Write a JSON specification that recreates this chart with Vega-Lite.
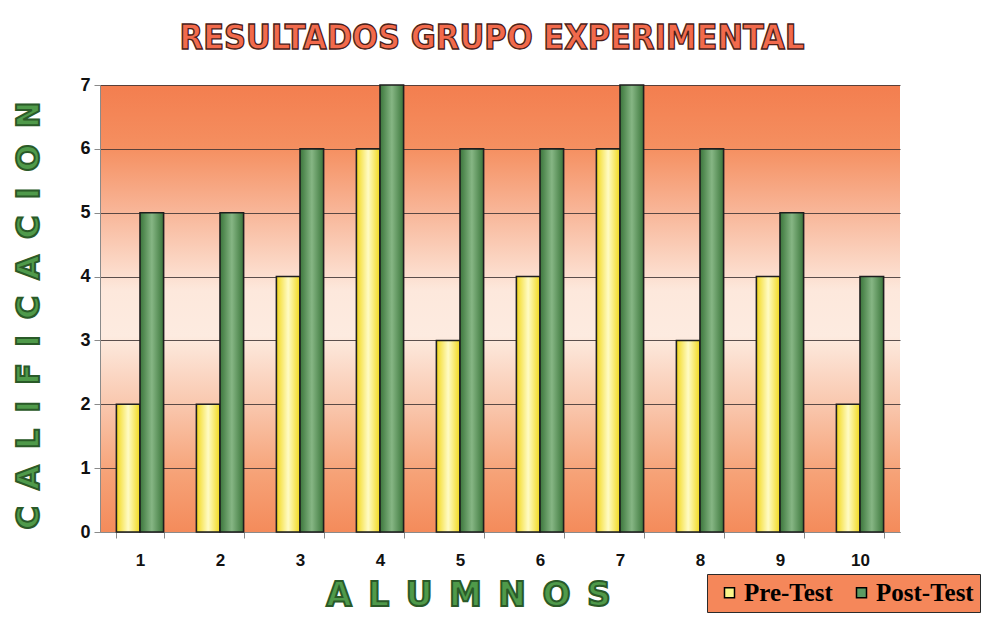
{
  "$schema": "https://vega.github.io/schema/vega-lite/v6.json",
  "autosize": "none",
  "width": 800,
  "height": 447,
  "padding": {"left": 100, "top": 85, "right": 93, "bottom": 87},
  "background": "#ffffff",
  "title": {
    "text": "RESULTADOS GRUPO EXPERIMENTAL",
    "anchor": "middle",
    "dx": -8,
    "offset": 20,
    "font": "DejaVu Sans Condensed, sans-serif",
    "fontSize": 34,
    "fontWeight": "bold",
    "color": "#f26a4c",
    "encoding": {"stroke": {"value": "#4a2018"}, "strokeWidth": {"value": 1.3}}
  },
  "data": {
    "values": [
      {"alumno": 1, "serie": "Pre-Test", "nota": 2},
      {"alumno": 1, "serie": "Post-Test", "nota": 5},
      {"alumno": 2, "serie": "Pre-Test", "nota": 2},
      {"alumno": 2, "serie": "Post-Test", "nota": 5},
      {"alumno": 3, "serie": "Pre-Test", "nota": 4},
      {"alumno": 3, "serie": "Post-Test", "nota": 6},
      {"alumno": 4, "serie": "Pre-Test", "nota": 6},
      {"alumno": 4, "serie": "Post-Test", "nota": 7},
      {"alumno": 5, "serie": "Pre-Test", "nota": 3},
      {"alumno": 5, "serie": "Post-Test", "nota": 6},
      {"alumno": 6, "serie": "Pre-Test", "nota": 4},
      {"alumno": 6, "serie": "Post-Test", "nota": 6},
      {"alumno": 7, "serie": "Pre-Test", "nota": 6},
      {"alumno": 7, "serie": "Post-Test", "nota": 7},
      {"alumno": 8, "serie": "Pre-Test", "nota": 3},
      {"alumno": 8, "serie": "Post-Test", "nota": 6},
      {"alumno": 9, "serie": "Pre-Test", "nota": 4},
      {"alumno": 9, "serie": "Post-Test", "nota": 5},
      {"alumno": 10, "serie": "Pre-Test", "nota": 2},
      {"alumno": 10, "serie": "Post-Test", "nota": 4}
    ]
  },
  "encoding": {
    "x": {
      "field": "alumno",
      "type": "ordinal",
      "scale": {"paddingInner": 0.41, "paddingOuter": 0.205},
      "axis": {
        "title": "A\u2002L\u2002U\u2002M\u2002N\u2002O\u2002S",
        "titleFont": "DejaVu Sans",
        "titleFontWeight": "bold",
        "titleFontSize": 33,
        "titleColor": "#4f9a4a",
        "titleX": 368,
        "titleY": 63,
        "titleAnchor": "middle",
        "titleAlign": "center",
        "titleBaseline": "middle",
        "labelAngle": 0,
        "labelFont": "Liberation Sans",
        "labelFontWeight": "bold",
        "labelFontSize": 17,
        "labelColor": "#111",
        "labelPadding": 14,
        "tickBand": "extent",
        "tickSize": 6,
        "tickColor": "#8a8a8a",
        "domainColor": "#8a8a8a",
        "grid": false,
        "encoding": {"title": {"stroke": {"value": "#2a5a28"}, "strokeWidth": {"value": 2}}}
      }
    },
    "xOffset": {"field": "serie", "sort": ["Pre-Test", "Post-Test"], "scale": {"paddingInner": 0}},
    "y": {
      "field": "nota",
      "type": "quantitative",
      "scale": {"domain": [0, 7], "nice": false},
      "axis": {
        "values": [0, 1, 2, 3, 4, 5, 6, 7],
        "title": "C\u2002A\u2002L\u2002I\u2002F\u2002I\u2002C\u2002A\u2002C\u2002I\u2002O\u2002N",
        "titleFont": "DejaVu Sans",
        "titleFontWeight": "bold",
        "titleFontSize": 32,
        "titleColor": "#4f9a4a",
        "titleX": -72,
        "titleY": 230,
        "titleAngle": 270,
        "titleAlign": "center",
        "titleBaseline": "middle",
        "labelFont": "Liberation Sans",
        "labelFontWeight": "bold",
        "labelFontSize": 18,
        "labelColor": "#111",
        "labelPadding": 4,
        "tickSize": 6,
        "tickColor": "#8a8a8a",
        "domainColor": "#8a8a8a",
        "grid": true,
        "gridColor": "#3e3434",
        "gridWidth": 1,
        "gridOpacity": 0.85,
        "encoding": {"title": {"stroke": {"value": "#2a5a28"}, "strokeWidth": {"value": 2}}}
      }
    }
  },
  "layer": [
    {
      "mark": {"type": "bar", "opacity": 0},
      "encoding": {
        "color": {
          "field": "serie",
          "type": "nominal",
          "sort": ["Pre-Test", "Post-Test"],
          "scale": {"domain": ["Pre-Test", "Post-Test"], "range": ["#fbf58a", "#5a9a62"]},
          "legend": {
            "orient": "none",
            "legendX": 607,
            "legendY": 489,
            "direction": "horizontal",
            "title": null,
            "fillColor": "#f5875a",
            "strokeColor": "#2a2a2a",
            "padding": 6,
            "symbolType": "square",
            "symbolSize": 100,
            "symbolOffset": 4,
            "symbolOpacity": 1,
            "symbolStrokeColor": "#000000",
            "symbolStrokeWidth": 1.5,
            "labelFont": "Liberation Serif",
            "labelFontWeight": "bold",
            "labelFontSize": 25,
            "labelColor": "#000000",
            "columnPadding": 12,
            "labelOffset": 2
          }
        }
      }
    },
    {
      "mark": {"type": "bar", "stroke": "#1e1e1e", "strokeWidth": 1.6},
      "encoding": {
        "fill": {
          "condition": {
            "test": "datum.serie === 'Pre-Test'",
            "value": {"gradient": "linear", "x1": 0, "y1": 0, "x2": 1, "y2": 0, "stops": [
              {"offset": 0, "color": "#f2d81e"},
              {"offset": 0.5, "color": "#fffbc4"},
              {"offset": 1, "color": "#f2d81e"}
            ]}
          },
          "value": {"gradient": "linear", "x1": 0, "y1": 0, "x2": 1, "y2": 0, "stops": [
            {"offset": 0, "color": "#3b763b"},
            {"offset": 0.5, "color": "#86b684"},
            {"offset": 1, "color": "#3b763b"}
          ]}
        }
      }
    }
  ],
  "config": {
    "view": {
      "stroke": null,
      "fill": {"gradient": "linear", "x1": 0, "y1": 0, "x2": 0, "y2": 1, "stops": [
        {"offset": 0, "color": "#f37e4f"},
        {"offset": 0.14, "color": "#f58f60"},
        {"offset": 0.28, "color": "#f8b597"},
        {"offset": 0.46, "color": "#fde8dc"},
        {"offset": 0.56, "color": "#fdebe0"},
        {"offset": 0.72, "color": "#f9c6ac"},
        {"offset": 0.87, "color": "#f6a277"},
        {"offset": 1, "color": "#f48b5b"}
      ]}
    }
  }
}
